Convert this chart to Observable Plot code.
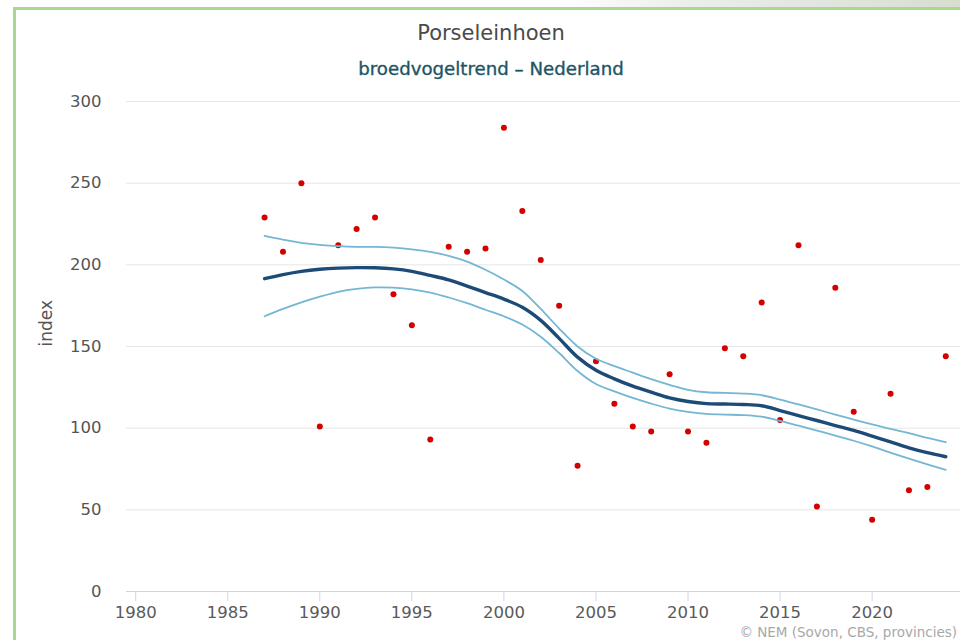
<!DOCTYPE html>
<html>
<head>
<meta charset="utf-8">
<script src="https://cdn.jsdelivr.net/npm/d3@7"></script>
<script src="https://cdn.jsdelivr.net/npm/@observablehq/plot@0.6"></script>
<style>
  html, body { margin: 0; padding: 0; background: #fff; }
  body { width: 960px; height: 640px; position: relative; overflow: hidden; font-family: "DejaVu Sans", sans-serif; }
  #topstrip { position: absolute; left: 0; top: 0; width: 960px; height: 8px;
    background: linear-gradient(to right, #fff 0%, #fff 58%, #eceee9 72%, #e2e5dd 86%, #d8ddcf 100%); }
  #frame { position: absolute; left: 13px; top: 7px; width: 960px; height: 640px;
    border-left: 3px solid #a6d892; border-top: 3px solid #a6d892; box-sizing: border-box; }
  #chart { position: absolute; left: 0; top: 0; }
  .title { position: absolute; left: 291px; width: 400px; text-align: center; white-space: nowrap; }
  #t1 { top: 21px; font-size: 21px; color: #4a4a4a; }
  #t2 { top: 58px; font-size: 18.2px; color: #1c5565; -webkit-text-stroke: 0.35px #1c5565; }
  #cap { position: absolute; right: 3px; top: 626px; font-size: 13.5px; line-height: 13px; color: #a8a8a8; white-space: nowrap; }
</style>
</head>
<body>
<div id="topstrip"></div>
<div id="frame"></div>
<div id="chart"></div>
<div class="title" id="t1">Porseleinhoen</div>
<div class="title" id="t2">broedvogeltrend – Nederland</div>
<div id="cap">© NEM (Sovon, CBS, provincies)</div>
<script>
const years = [1987,1988,1989,1990,1991,1992,1993,1994,1995,1996,1997,1998,1999,2000,2001,2002,2003,2004,2005,2006,2007,2008,2009,2010,2011,2012,2013,2014,2015,2016,2017,2018,2019,2020,2021,2022,2023,2024];
const indexValues = [229,208,250,101,212,222,229,182,163,93,211,208,210,284,233,203,175,77,141,115,101,98,133,98,91,149,144,177,105,212,52,186,110,44,121,62,64,144];
const trend = [191.5,194,196,197.3,198,198.3,198.2,197.5,196,193.5,190.8,187,183,179,174,166,155,143.5,135.5,130.2,125.7,122,118.5,116.3,115,114.8,114.5,113.7,110.8,107.7,104.7,101.6,98.6,95.1,91.6,88,85,82.5];
const upper = [217.8,215.5,213.5,212.2,211.4,211,211,210.5,209.5,208,205.5,202,197,191,184,173,161,150,142.5,138,134,130,126.5,123.5,122,121.6,121.2,120.2,117.5,114.5,111.5,108.3,105.3,102.3,99.5,97,94,91.4];
const lower = [168.5,173,177,180.5,183.5,185.3,186.2,186,185,183,180,176.5,172.5,168.5,163.5,156,146,135,127,122.5,118.5,115,112,110,108.7,108.3,108,107,104.5,101.5,98.5,95.5,92.3,88.8,85,81.3,77.8,74.5];
const xTicks = [1980,1985,1990,1995,2000,2005,2010,2015,2020];
const yTicks = [0,50,100,150,200,250,300];

const pts = years.map((y, i) => ({year: y, value: indexValues[i]}));
const tr = years.map((y, i) => ({year: y, value: trend[i]}));
const up = years.map((y, i) => ({year: y, value: upper[i]}));
const lo = years.map((y, i) => ({year: y, value: lower[i]}));

const chart = Plot.plot({
  width: 960,
  height: 640,
  marginLeft: 126,
  marginRight: 0,
  marginTop: 101,
  marginBottom: 49,
  style: { fontFamily: "DejaVu Sans, sans-serif", background: "transparent", overflow: "visible" },
  x: { domain: [1979.5, 2024.8] },
  y: { domain: [0, 300] },
  marks: [
    Plot.gridY(yTicks.filter(d => d > 0), { stroke: "#e6e6e6", strokeOpacity: 1, strokeWidth: 1 }),
    Plot.ruleY([0], { stroke: "#ccd6eb", strokeWidth: 1 }),
    Plot.axisY(yTicks, { tickSize: 0, tickPadding: 25, fontSize: 16.5, fill: "#555", label: null }),
    Plot.axisX(xTicks, { tickSize: 10, tickPadding: 5, stroke: "#ccd6eb", fontSize: 16.5, fill: "#5a5a5a", label: null, tickFormat: d => String(d) }),
    Plot.dot(pts, { x: "year", y: "value", r: 3, fill: "#d40000", stroke: "none" }),
    Plot.line(up, { x: "year", y: "value", stroke: "#74b6d3", strokeWidth: 1.8, curve: "catmull-rom" }),
    Plot.line(lo, { x: "year", y: "value", stroke: "#74b6d3", strokeWidth: 1.8, curve: "catmull-rom" }),
    Plot.line(tr, { x: "year", y: "value", stroke: "#1c4b78", strokeWidth: 3.4, curve: "catmull-rom" }),
    Plot.text(["index"], { frameAnchor: "left", dx: -80, rotate: -90, fontSize: 17, fill: "#555" })
  ]
});
document.getElementById("chart").appendChild(chart);
</script>
</body>
</html>
